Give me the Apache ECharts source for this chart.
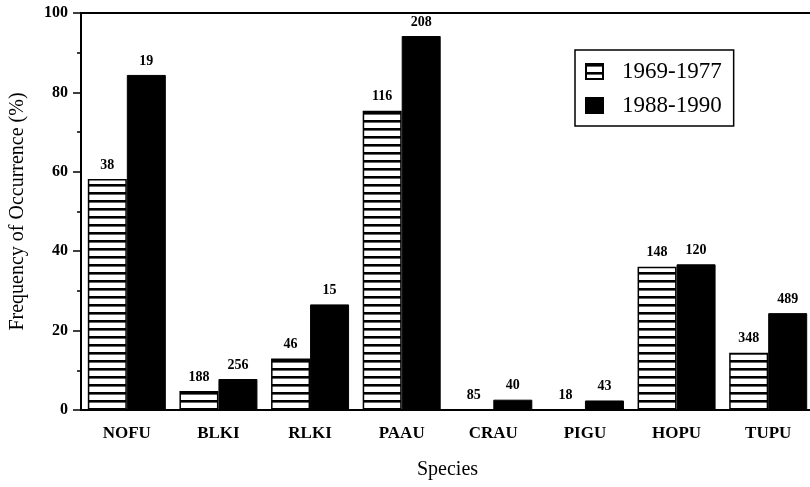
<!DOCTYPE html>
<html>
<head>
<meta charset="utf-8">
<script src="https://cdn.jsdelivr.net/npm/echarts@6/dist/echarts.min.js"></script>
<style>
  html, body { margin: 0; padding: 0; background: #fff; }
  #chart { width: 810px; height: 487px; }
</style>
</head>
<body>
<div id="chart"></div>
<script>
const species = ['NOFU', 'BLKI', 'RLKI', 'PAAU', 'CRAU', 'PIGU', 'HOPU', 'TUPU']
const early = [58.2, 4.8, 13.0, 75.4, 0, 0, 36.1, 14.4]
const late = [84.4, 7.8, 26.6, 94.2, 2.6, 2.4, 36.7, 24.4]
const earlyN = [38, 188, 46, 116, 85, 18, 148, 348]
const lateN = [19, 256, 15, 208, 40, 43, 120, 489]
const yTicks = [0, 20, 40, 60, 80, 100]

const serif = '"Liberation Serif", "DejaVu Serif", serif'

// horizontal stripe fill for the 1969-1977 bars
const makeStripes = () => {
  const c = document.createElement('canvas')
  c.width = 8
  c.height = 8
  const ctx = c.getContext('2d')
  ctx.fillStyle = '#fff'
  ctx.fillRect(0, 0, 8, 8)
  ctx.fillStyle = '#000'
  ctx.fillRect(0, 0, 8, 2.6)
  return c
}
const stripes = { image: makeStripes(), repeat: 'repeat' }

const chart = echarts.init(document.getElementById('chart'))

const barLabel = (counts) => ({
  show: true,
  position: 'top',
  distance: 7,
  formatter: (p) => counts[p.dataIndex],
  fontFamily: serif,
  fontWeight: 'bold',
  fontSize: 14,
  color: '#000'
})

chart.setOption({
  animation: false,
  backgroundColor: '#fff',
  grid: {
    left: 81,
    right: -4,
    top: 13,
    bottom: 77,
    outerBoundsMode: 'none',
    containLabel: false,
    show: true,
    borderColor: '#000',
    borderWidth: 2
  },
  legend: {
    left: 575,
    top: 50,
    orient: 'vertical',
    padding: [10, 12, 9, 10],
    icon: 'rect',
    itemWidth: 17,
    itemHeight: 15,
    itemGap: 11,
    borderColor: '#000',
    borderWidth: 1.5,
    textStyle: {
      fontFamily: serif,
      fontSize: 23,
      color: '#000',
      padding: [0, 0, 0, 14]
    },
    data: ['1969-1977', '1988-1990']
  },
  xAxis: {
    type: 'category',
    data: species,
    name: 'Species',
    nameLocation: 'middle',
    nameGap: 50,
    nameTextStyle: { fontFamily: serif, fontSize: 20, color: '#000' },
    axisLine: { lineStyle: { color: '#000', width: 2 } },
    axisTick: { show: false },
    axisLabel: {
      margin: 15,
      fontFamily: serif,
      fontWeight: 'bold',
      fontSize: 17,
      color: '#000'
    }
  },
  yAxis: {
    type: 'value',
    min: yTicks[0],
    max: yTicks[yTicks.length - 1],
    interval: 20,
    name: 'Frequency of Occurrence (%)',
    nameLocation: 'middle',
    nameGap: 53,
    nameTextStyle: { fontFamily: serif, fontSize: 20, color: '#000' },
    axisLine: { show: true, lineStyle: { color: '#000', width: 2 } },
    axisTick: { show: true, length: 8, lineStyle: { color: '#000', width: 1.5 } },
    minorTick: { show: true, splitNumber: 2, length: 4, lineStyle: { color: '#000', width: 1.5 } },
    splitLine: { show: false },
    axisLabel: {
      margin: 13,
      fontFamily: serif,
      fontWeight: 'bold',
      fontSize: 16,
      color: '#000'
    }
  },
  series: [
    {
      name: '1969-1977',
      type: 'bar',
      data: early,
      barWidth: 39,
      barGap: '0%',
      itemStyle: { color: stripes, borderColor: '#000', borderWidth: 1.5 },
      label: barLabel(earlyN)
    },
    {
      name: '1988-1990',
      type: 'bar',
      data: late,
      barWidth: 39,
      itemStyle: { color: '#000', borderColor: '#000', borderWidth: 1 },
      label: barLabel(lateN)
    }
  ]
})
</script>
</body>
</html>
